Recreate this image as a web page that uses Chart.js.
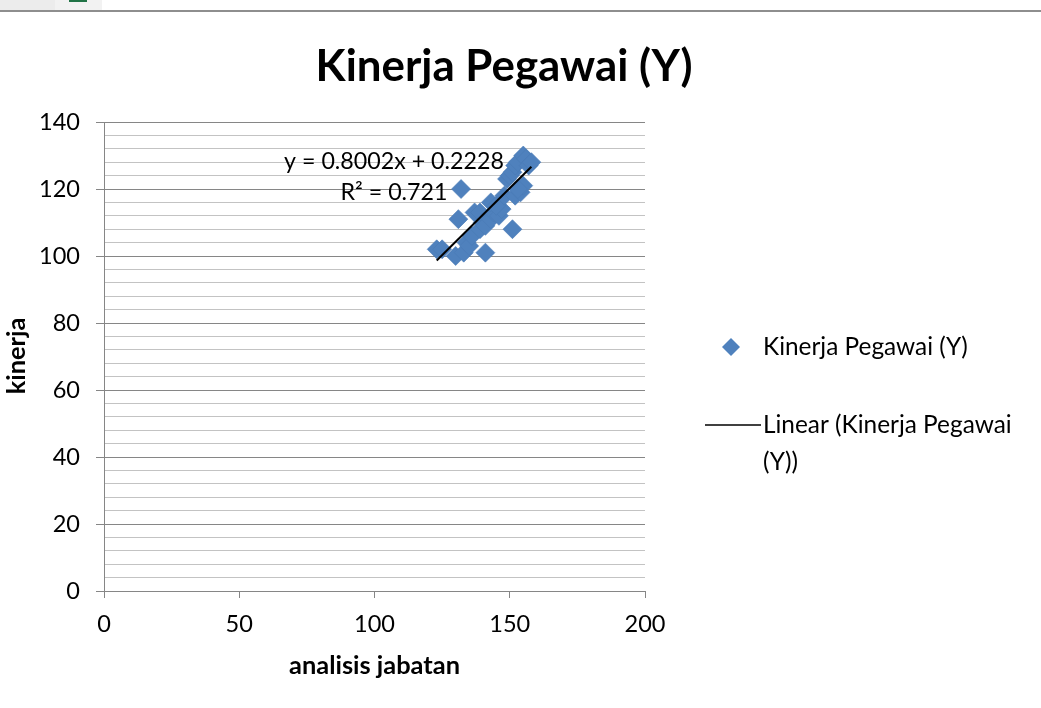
<!DOCTYPE html>
<html>
<head>
<meta charset="utf-8">
<title>Kinerja Pegawai (Y)</title>
<script src="https://cdn.jsdelivr.net/npm/chart.js@4.4.1/dist/chart.umd.min.js"></script>
<style>
  html, body { margin: 0; padding: 0; background: #ffffff; overflow: hidden; }
  #wrap { position: relative; width: 1041px; height: 708px; }
  #chart { position: absolute; left: 0; top: 0; }
  .bar-top { position: absolute; left: 0; top: 10px; width: 1041px; height: 2px; background: #8e8e8e; }
  .tab-a { position: absolute; left: 0; top: 0; width: 55px; height: 10px; background: #ececec; }
  .tab-b { position: absolute; left: 55px; top: 0; width: 47px; height: 10px; background: #f2f2f2; }
  .tab-icon { position: absolute; left: 69px; top: 0; width: 18px; height: 2px; background: #217346; }
</style>
</head>
<body>
<div id="wrap">
  <canvas id="chart" width="1041" height="708"></canvas>
  <div class="tab-a"></div><div class="tab-b"></div><div class="tab-icon"></div>
  <div class="bar-top"></div>
</div>
<script>
// ---- data ----
const chartTitle = 'Kinerja Pegawai (Y)';
const xAxisTitle = 'analisis jabatan';
const yAxisTitle = 'kinerja';
const seriesName = 'Kinerja Pegawai (Y)';
const trendNameLines = ['Linear (Kinerja Pegawai', '(Y))'];

// analisis jabatan (x) and kinerja (y) per respondent
const analisisJabatan = [123, 125, 130, 133, 134, 135, 136, 141, 131, 137, 139, 140, 139, 141, 143, 144, 146, 147, 151, 143, 145, 148, 152, 154, 132, 149, 150, 151, 152, 153, 155, 156, 157, 158, 155, 153];
const kinerja         = [102, 102, 100, 101, 104, 103, 106, 101, 111, 113, 113, 110, 108, 109, 111, 113, 112, 114, 108, 116, 115, 118, 118, 119, 120, 123, 124, 125, 127, 128, 130, 129, 127, 128, 121, 120];

// linear trend line reported for the series
const trendSlope = 0.8002;
const trendIntercept = 0.2228;
const rSquared = 0.721;

// axis ranges and tick steps
const xTickValues = [0, 50, 100, 150, 200];
const yTickValues = [0, 20, 40, 60, 80, 100, 120, 140];
const yMinorStep = 4;

// ---- styling ----
const FONT = 'Lato, "Open Sans", "DejaVu Sans", sans-serif';
const MARKER = '#4f81bd';
const MAJOR_GRID = '#868686';
const MINOR_GRID = '#c3c3c3';

const measureCtx = document.createElement('canvas').getContext('2d');
function fitSize(text, weight, width) {
  measureCtx.font = `${weight} 100px ${FONT}`;
  return 100 * width / measureCtx.measureText(text).width;
}
const equationText = `y = ${trendSlope.toFixed(4)}x + ${trendIntercept.toFixed(4)}`;
const rSquaredText = `R² = ${rSquared}`;
const titleSize = fitSize(chartTitle, 'bold', 377);
const tickSize = fitSize('100', 'normal', 41);
const textSize = fitSize(seriesName, 'normal', 205);
const equationSize = fitSize(equationText, 'normal', 220);
const axisTitleSize = fitSize(xAxisTitle, 'bold', 171);

const points = analisisJabatan.map((x, i) => ({ x: x, y: kinerja[i] }));
const xMin = Math.min(...analisisJabatan);
const xMax = Math.max(...analisisJabatan);
const trendPoints = [xMin, xMax].map(x => ({ x: x, y: trendSlope * x + trendIntercept }));

const isMajorY = v => v % 20 === 0;

// draws title, axis titles, equation box and legend
const decorations = {
  id: 'decorations',
  afterDraw(chart) {
    const ctx = chart.ctx;
    const xs = chart.scales.x;
    ctx.save();
    ctx.fillStyle = '#000000';

    ctx.font = `bold ${titleSize}px ${FONT}`;
    ctx.textAlign = 'center';
    ctx.textBaseline = 'middle';
    ctx.fillText(chartTitle, 504, 67);

    ctx.font = `bold ${axisTitleSize}px ${FONT}`;
    ctx.fillText(xAxisTitle, (xs.left + xs.right) / 2, 666);

    ctx.save();
    ctx.translate(17, 356);
    ctx.rotate(-Math.PI / 2);
    ctx.fillText(yAxisTitle, 0, 0);
    ctx.restore();

    // trend equation
    ctx.font = `${equationSize}px ${FONT}`;
    ctx.fillText(equationText, 394, 162);
    ctx.fillText(rSquaredText, 394, 193);

    // legend
    ctx.font = `${textSize}px ${FONT}`;
    ctx.textAlign = 'left';
    const lx = 731, ly1 = 347, ly2 = 425, r = 9;
    ctx.fillStyle = MARKER;
    ctx.beginPath();
    ctx.moveTo(lx, ly1 - r);
    ctx.lineTo(lx + r, ly1);
    ctx.lineTo(lx, ly1 + r);
    ctx.lineTo(lx - r, ly1);
    ctx.closePath();
    ctx.fill();
    ctx.fillStyle = '#000000';
    ctx.fillText(seriesName, 763, ly1);

    ctx.strokeStyle = '#000000';
    ctx.lineWidth = 1.5;
    ctx.beginPath();
    ctx.moveTo(705, ly2);
    ctx.lineTo(761, ly2);
    ctx.stroke();
    ctx.fillText(trendNameLines[0], 763, ly2);
    ctx.fillText(trendNameLines[1], 763, ly2 + 37);
    ctx.restore();
  }
};

new Chart(document.getElementById('chart'), {
  type: 'scatter',
  data: {
    datasets: [
      {
        type: 'line',
        label: 'Linear (' + seriesName + ')',
        data: trendPoints,
        borderColor: '#000000',
        borderWidth: 2,
        pointRadius: 0,
        fill: false,
        order: 0
      },
      {
        label: seriesName,
        data: points,
        pointStyle: 'rectRot',
        pointRadius: 9.5,
        pointHoverRadius: 9.5,
        backgroundColor: MARKER,
        borderColor: '#4a7ab5',
        borderWidth: 0.6,
        order: 1
      }
    ]
  },
  options: {
    responsive: false,
    animation: false,
    events: [],
    layout: { padding: { left: 0, right: 396, top: 122, bottom: 0 } },
    plugins: {
      legend: { display: false },
      title: { display: false },
      tooltip: { enabled: false }
    },
    scales: {
      x: {
        type: 'linear',
        min: xTickValues[0],
        max: xTickValues[xTickValues.length - 1],
        afterBuildTicks: s => { s.ticks = xTickValues.map(v => ({ value: v })); },
        afterFit: s => { s.height = 117; },
        grid: {
          drawOnChartArea: false,
          drawTicks: true,
          tickLength: 7,
          tickColor: MAJOR_GRID,
          color: MAJOR_GRID
        },
        border: { color: MAJOR_GRID, width: 1 },
        ticks: {
          color: '#000000',
          padding: 12,
          font: { family: FONT, size: tickSize }
        }
      },
      y: {
        type: 'linear',
        min: yTickValues[0],
        max: yTickValues[yTickValues.length - 1],
        afterBuildTicks: s => {
          const t = [];
          for (let v = yTickValues[0]; v <= yTickValues[yTickValues.length - 1]; v += yMinorStep) t.push({ value: v });
          s.ticks = t;
        },
        afterFit: s => { s.width = 104; },
        grid: {
          drawTicks: true,
          tickLength: 8,
          color: c => (c.tick && isMajorY(c.tick.value)) ? MAJOR_GRID : MINOR_GRID,
          tickColor: c => (c.tick && isMajorY(c.tick.value)) ? MAJOR_GRID : 'rgba(0,0,0,0)'
        },
        border: { color: MAJOR_GRID, width: 1 },
        ticks: {
          autoSkip: false,
          color: '#000000',
          padding: 16,
          font: { family: FONT, size: tickSize },
          callback: v => yTickValues.includes(v) ? String(v) : ''
        }
      }
    }
  },
  plugins: [decorations]
});
</script>
</body>
</html>
